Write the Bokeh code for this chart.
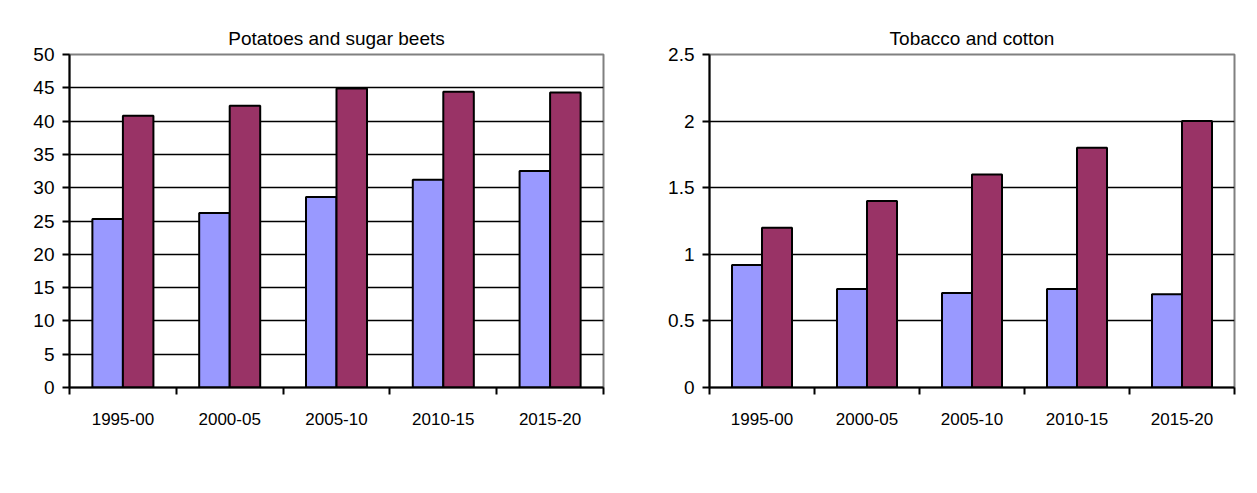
from bokeh.plotting import figure
from bokeh.models import (ColumnDataSource, Range1d, FixedTicker, Legend, LegendItem,
                          Title, BoxAnnotation)
from bokeh.transform import dodge
from bokeh.layouts import row
from bokeh.embed import file_html
from bokeh.resources import INLINE

# ---------------- data ----------------
categories = ["1995-00", "2000-05", "2005-10", "2010-15", "2015-20"]
potatoes = [25.3, 26.2, 28.6, 31.2, 32.5]
sugar_beets = [40.8, 42.3, 44.9, 44.4, 44.3]
tobacco = [0.92, 0.74, 0.71, 0.74, 0.70]
cotton = [1.2, 1.4, 1.6, 1.8, 2.0]

left_ticks = [0, 5, 10, 15, 20, 25, 30, 35, 40, 45, 50]
right_ticks = [0, 0.5, 1, 1.5, 2, 2.5]

COL_A = "#9999FF"
COL_B = "#993366"
FONT = "Liberation Sans"


def make_chart(title, name_a, vals_a, name_b, vals_b, yticks, width, bl, br,
               title_offset, leg_x, leg_pad_left, leg_label_w, leg_spacing):
    centers = [i + 0.5 for i in range(len(categories))]
    src = ColumnDataSource(dict(x=centers, a=vals_a, b=vals_b))
    bw = 1 / 3.5
    p = figure(width=width, height=477, output_backend="svg", toolbar_location=None,
               x_range=Range1d(0, len(categories)), y_range=Range1d(yticks[0], yticks[-1]),
               min_border_left=bl, min_border_right=br, min_border_top=54,
               min_border_bottom=90, title=None)
    p.background_fill_color = "white"
    p.border_fill_color = "white"
    p.outline_line_color = "#808080"
    p.outline_line_width = 2

    ra = p.vbar(x=dodge("x", -bw / 2, range=p.x_range), top="a", width=bw, source=src,
                fill_color=COL_A, line_color="black", line_width=2)
    rb = p.vbar(x=dodge("x", bw / 2, range=p.x_range), top="b", width=bw, source=src,
                fill_color=COL_B, line_color="black", line_width=2)

    # y axis
    yax = p.yaxis[0]
    yax.ticker = FixedTicker(ticks=yticks)
    yax.axis_line_color = "black"
    yax.axis_line_width = 2
    yax.major_tick_in = 0
    yax.major_tick_out = 7
    yax.major_tick_line_width = 2
    yax.minor_tick_out = 0
    yax.minor_tick_in = 0
    yax.major_label_standoff = 8
    yax.major_label_text_font = FONT
    yax.major_label_text_font_size = "19px"
    yax.major_label_text_color = "black"

    # x axis: labels at category centres, tick marks at boundaries
    xax = p.xaxis[0]
    xax.ticker = FixedTicker(ticks=centers, minor_ticks=list(range(len(categories) + 1)))
    xax.major_label_overrides = {c: lab for c, lab in zip(centers, categories)}
    xax.axis_line_color = "black"
    xax.axis_line_width = 2
    xax.major_tick_in = 0
    xax.major_tick_out = 0
    xax.minor_tick_in = 0
    xax.minor_tick_out = 7
    xax.minor_tick_line_width = 2
    xax.minor_tick_line_color = "black"
    xax.major_label_standoff = 18
    xax.major_label_text_font = FONT
    xax.major_label_text_font_size = "17px"
    xax.major_label_text_color = "black"

    p.xgrid.visible = False
    p.ygrid.ticker = FixedTicker(ticks=yticks[1:-1])
    p.ygrid.grid_line_color = "black"
    p.ygrid.grid_line_width = 1.5

    t = Title(text=title, align="center", offset=title_offset, text_font=FONT,
              text_font_size="19px", text_font_style="normal", text_color="black",
              standoff=12)
    p.add_layout(t, "above")

    leg = Legend(items=[LegendItem(label=name_a, renderers=[ra]),
                        LegendItem(label=name_b, renderers=[rb])],
                 orientation="horizontal", location=(leg_x, -78),
                 title=" ", title_location="left", title_standoff=leg_pad_left,
                 title_text_font_size="19px",
                 padding=7, margin=0, spacing=leg_spacing,
                 glyph_width=13, glyph_height=13, label_standoff=5,
                 label_width=leg_label_w, label_height=20,
                 label_text_font=FONT, label_text_font_size="19px",
                 border_line_color="black", border_line_width=2,
                 background_fill_color="white", background_fill_alpha=1)
    p.add_layout(leg, "center")
    return p


p1 = make_chart("Potatoes and sugar beets", "Potatoes", potatoes, "Sugar beets", sugar_beets,
                left_ticks, 632, 69, 29, -21, -37, 73, 191, 58)
p1.add_layout(BoxAnnotation(left=1, right=631, top=5, bottom=490,
                            left_units="canvas", right_units="canvas",
                            top_units="canvas", bottom_units="canvas",
                            fill_alpha=0, line_color="black", line_width=2, level="overlay"))

p2 = make_chart("Tobacco and cotton", "Tobacco", tobacco, "Cotton", cotton,
                right_ticks, 609, 77, 7, -30, -47, 87, 152, 122)
p2.add_layout(BoxAnnotation(left=-5, right=608, top=5, bottom=490,
                            left_units="canvas", right_units="canvas",
                            top_units="canvas", bottom_units="canvas",
                            fill_alpha=0, line_color="black", line_width=2, level="overlay"))

layout = row(p1, p2, spacing=0)
open("out.html", "w").write(file_html(layout, INLINE))
